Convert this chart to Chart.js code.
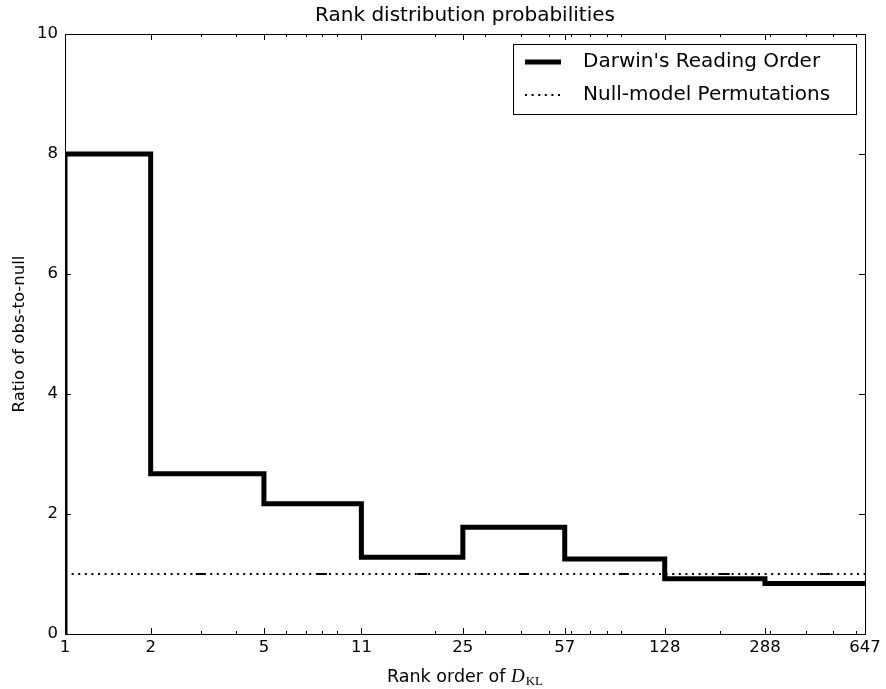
<!DOCTYPE html>
<html>
<head>
<meta charset="utf-8">
<script src="https://cdn.jsdelivr.net/npm/chart.js@4"></script>
<style>
  html, body { margin: 0; padding: 0; background: #fff; }
  #wrap { width: 886px; height: 689px; }
</style>
</head>
<body>
<div id="wrap"><canvas id="rankChart" width="886" height="689"></canvas></div>
<script>
// bin edges of the rank order (log x axis) and the observed/null ratio per bin
const binEdges = [1, 2, 5, 11, 25, 57, 128, 288, 647];
const ratios = [8.0, 2.67, 2.17, 1.28, 1.78, 1.25, 0.92, 0.84];
// null-model permutation markers
const nullX = [3, 8, 18, 41, 92, 208, 468];
const nullLevel = 1.0;
// tick labels
const xTicks = binEdges;
const xMinorTicks = [3, 4, 6, 7, 8, 9, 20, 30, 40, 50, 60, 70, 80, 90, 200, 300, 400, 500, 600];
const yTicks = [0, 2, 4, 6, 8, 10];

Chart.defaults.font.family = "'DejaVu Sans', sans-serif";
Chart.defaults.color = '#000';

// step outline, starting from zero at the left edge
const stepData = [{ x: binEdges[0], y: 0 }];
ratios.forEach((r, i) => stepData.push({ x: binEdges[i], y: r }));
stepData.push({ x: binEdges[binEdges.length - 1], y: ratios[ratios.length - 1] });

const nullLine = [
    { x: binEdges[0], y: nullLevel },
    { x: binEdges[binEdges.length - 1], y: nullLevel }
];
const nullPoints = nullX.map(x => ({ x: x, y: nullLevel }));

// frame with inward ticks on all four sides (matplotlib classic look)
const framePlugin = {
    id: 'frame',
    afterDatasetsDraw(chart) {
        const { ctx, chartArea: a, scales } = chart;
        ctx.save();
        ctx.strokeStyle = '#000';
        ctx.lineWidth = 1;
        ctx.strokeRect(a.left + 0.5, a.top + 0.5, a.right - a.left, a.bottom - a.top);
        const tick = (x1, y1, x2, y2) => {
            ctx.beginPath(); ctx.moveTo(x1, y1); ctx.lineTo(x2, y2); ctx.stroke();
        };
        xTicks.forEach(v => {
            const px = Math.round(scales.x.getPixelForValue(v)) + 0.5;
            tick(px, a.bottom, px, a.bottom - 6);
            tick(px, a.top, px, a.top + 6);
        });
        xMinorTicks.forEach(v => {
            const px = Math.round(scales.x.getPixelForValue(v)) + 0.5;
            tick(px, a.bottom, px, a.bottom - 3);
            tick(px, a.top, px, a.top + 3);
        });
        yTicks.forEach(v => {
            const py = Math.round(scales.y.getPixelForValue(v)) + 0.5;
            tick(a.left, py, a.left + 6, py);
            tick(a.right, py, a.right - 6, py);
        });
        ctx.restore();
    }
};

// title centred over the plot area, legend box in the upper right
const legendPlugin = {
    id: 'boxLegend',
    afterDraw(chart) {
        const { ctx, chartArea: a } = chart;
        ctx.save();
        ctx.fillStyle = '#000';
        ctx.font = "20px 'DejaVu Sans'";
        ctx.textAlign = 'center';
        ctx.textBaseline = 'alphabetic';
        ctx.fillText('Rank distribution probabilities', (a.left + a.right) / 2, a.top - 13);

        const x0 = a.right - 352, y0 = a.top + 10, w = 343, h = 70;
        ctx.fillStyle = '#fff';
        ctx.fillRect(x0, y0, w, h);
        ctx.strokeStyle = '#000';
        ctx.lineWidth = 1;
        ctx.strokeRect(x0 + 0.5, y0 + 0.5, w, h);

        ctx.lineWidth = 5;
        ctx.beginPath(); ctx.moveTo(x0 + 12, y0 + 18); ctx.lineTo(x0 + 48, y0 + 18); ctx.stroke();
        ctx.lineWidth = 2;
        ctx.setLineDash([2, 4.6]);
        ctx.beginPath(); ctx.moveTo(x0 + 12, y0 + 51); ctx.lineTo(x0 + 48, y0 + 51); ctx.stroke();
        ctx.setLineDash([]);

        ctx.fillStyle = '#000';
        ctx.textBaseline = 'middle';
        ctx.textAlign = 'left';
        ctx.fillText("Darwin's Reading Order", x0 + 70, y0 + 18);
        ctx.fillText('Null-model Permutations', x0 + 70, y0 + 51);
        ctx.restore();
    }
};

// x axis title with the math-style D_KL
const xTitlePlugin = {
    id: 'xTitle',
    afterDraw(chart) {
        const { ctx, chartArea: a } = chart;
        const part1 = 'Rank order of ';
        ctx.save();
        ctx.fillStyle = '#000';
        ctx.textBaseline = 'alphabetic';
        const f1 = "17.5px 'DejaVu Sans'";
        const f2 = "italic 19px 'Liberation Serif'";
        const f3 = "13px 'Liberation Serif'";
        ctx.font = f1; const w1 = ctx.measureText(part1).width;
        ctx.font = f2; const w2 = ctx.measureText('D').width;
        ctx.font = f3; const w3 = ctx.measureText('KL').width;
        let x = (a.left + a.right) / 2 - (w1 + w2 + w3 + 1) / 2;
        const base = 682;
        ctx.font = f1; ctx.fillText(part1, x, base); x += w1;
        ctx.font = f2; ctx.fillText('D', x, base); x += w2 + 1;
        ctx.font = f3; ctx.fillText('KL', x, base + 3);
        ctx.restore();
    }
};

new Chart(document.getElementById('rankChart'), {
    type: 'line',
    data: {
        datasets: [
            {
                label: "Darwin's Reading Order",
                data: stepData,
                stepped: true,
                borderColor: '#000',
                borderWidth: 5,
                pointRadius: 0,
                fill: false,
                clip: 0
            },
            {
                label: 'Null-model Permutations',
                data: nullLine,
                borderColor: '#000',
                borderWidth: 2,
                borderDash: [2, 4.6],
                pointRadius: 0,
                fill: false
            },
            {
                type: 'scatter',
                label: 'null points',
                data: nullPoints,
                pointStyle: 'line',
                pointRadius: 5,
                borderColor: '#000',
                borderWidth: 2,
                showLine: false
            }
        ]
    },
    options: {
        responsive: false,
        animation: false,
        events: [],
        layout: { padding: { top: 34, right: 21, bottom: 0, left: 0 } },
        plugins: {
            legend: { display: false },
            tooltip: { enabled: false },
            title: { display: false }
        },
        scales: {
            x: {
                type: 'logarithmic',
                min: 1,
                max: 647,
                afterBuildTicks: scale => { scale.ticks = xTicks.map(v => ({ value: v })); },
                afterFit: scale => { scale.height = 55; },
                grid: { display: false, drawTicks: false },
                border: { display: false },
                ticks: {
                    autoSkip: false,
                    maxRotation: 0,
                    padding: 4,
                    font: { size: 16.5 },
                    callback: v => String(v)
                }
            },
            y: {
                type: 'linear',
                min: 0,
                max: 10,
                afterBuildTicks: scale => { scale.ticks = yTicks.map(v => ({ value: v })); },
                afterFit: scale => { scale.width = 65; },
                grid: { display: false, drawTicks: false },
                border: { display: false },
                ticks: { padding: 7, font: { size: 16.5 } },
                title: {
                    display: true,
                    text: 'Ratio of obs-to-null',
                    font: { size: 16.5 },
                    padding: { top: 10, bottom: 0 }
                }
            }
        }
    },
    plugins: [framePlugin, legendPlugin, xTitlePlugin]
});
</script>
</body>
</html>
